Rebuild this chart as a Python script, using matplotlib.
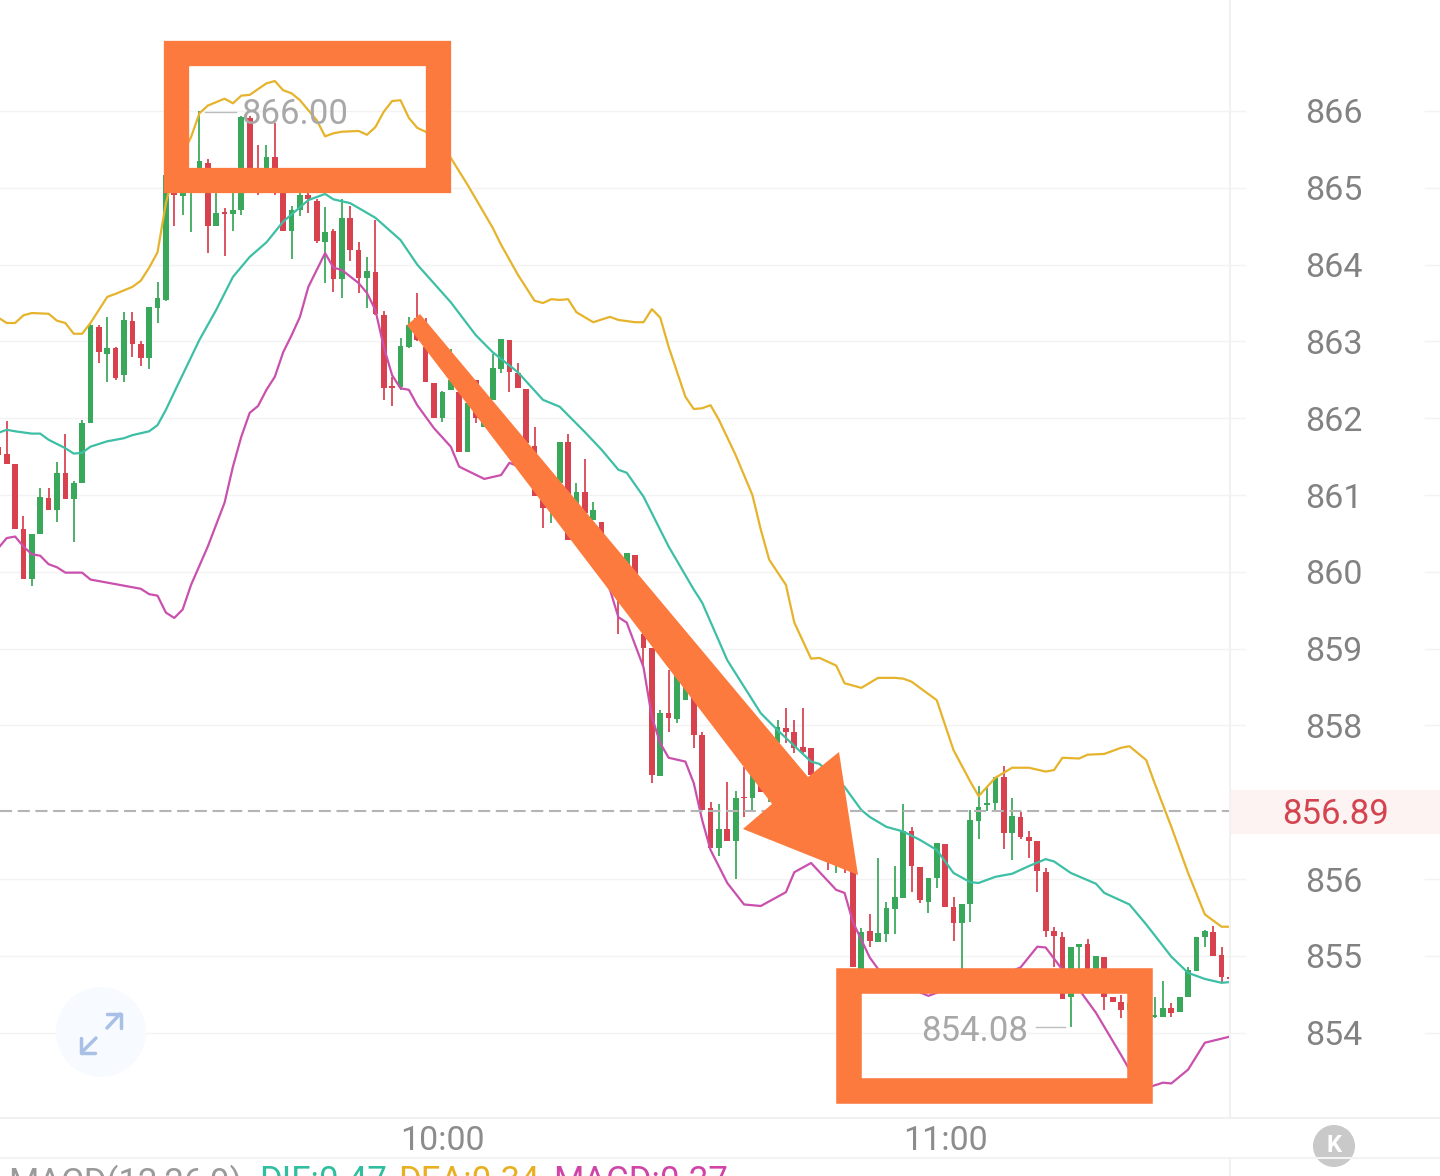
import matplotlib
matplotlib.use("Agg")
import matplotlib.pyplot as plt
from matplotlib.patches import Circle, Polygon, Rectangle

plt.rcParams["font.family"] = ["Roboto", "DejaVu Sans"]

# one candle per minute, index 53 is 10:00 and index 113 is 11:00
opens = [
    861.63, 861.54, 861.41, 860.56, 859.91, 860.49, 860.96, 860.81, 861.29, 860.95,
    861.16, 861.94, 863.19, 862.84, 862.92, 862.56, 863.27, 862.97, 862.79, 863.44,
    863.54, 865.23, 864.89, 864.93, 864.97, 865.32, 864.50, 864.69, 864.66, 864.71,
    865.91, 865.23, 865.04, 865.40, 865.17, 864.44, 864.71, 864.91, 864.83, 864.29,
    864.44, 863.81, 864.61, 864.19, 863.83, 863.90, 863.34, 862.42, 862.41, 862.93,
    863.31, 862.93, 862.46, 862.00, 862.37, 862.34, 861.56, 862.50, 861.89, 862.24,
    862.64, 863.02, 862.59, 862.38, 861.64, 860.94, 860.81, 861.16, 861.69, 860.81,
    861.04, 860.68, 860.65, 860.35, 859.96, 859.96, 860.22, 859.19, 859.01, 857.34,
    858.16, 858.09, 858.33, 858.37, 857.88, 856.92, 856.41, 856.65, 856.49, 857.07,
    857.06, 857.36, 857.16, 857.77, 857.97, 857.92, 857.72, 857.71, 857.29, 856.38,
    856.19, 856.25, 856.12, 854.79, 855.33, 855.18, 855.29, 855.61, 855.76, 856.62,
    856.16, 855.70, 856.02, 856.46, 855.64, 855.43, 855.67, 856.76, 856.97, 856.99,
    857.33, 856.60, 856.81, 856.55, 856.49, 856.09, 855.33, 855.25, 854.46, 855.11,
    855.16, 854.75, 854.99, 854.46, 854.40, 854.29, 854.43, 854.30, 854.21, 854.21,
    854.32, 854.27, 854.46, 854.81, 855.24, 855.31, 855.01, 854.73,
]
highs = [
    861.70, 861.97, 861.41, 860.73, 860.49, 861.09, 861.09, 861.43, 861.80, 861.18,
    861.98, 863.24, 863.21, 863.32, 862.93, 863.38, 863.38, 863.00, 863.45, 863.77,
    865.26, 865.25, 865.20, 865.25, 866.00, 865.38, 865.23, 864.74, 865.10, 865.93,
    865.93, 865.56, 865.56, 865.84, 865.20, 864.76, 864.95, 864.97, 864.85, 864.75,
    864.46, 864.85, 864.76, 864.29, 864.10, 864.58, 863.40, 862.54, 863.05, 863.32,
    863.63, 863.31, 862.46, 862.35, 862.90, 862.36, 862.20, 862.50, 862.30, 862.84,
    863.03, 863.02, 862.72, 862.38, 861.89, 860.96, 861.07, 861.69, 861.80, 861.16,
    861.47, 860.91, 860.65, 860.35, 859.96, 860.25, 860.22, 859.25, 859.01, 858.20,
    858.72, 858.66, 858.59, 858.37, 857.92, 857.01, 856.98, 857.27, 857.15, 857.46,
    857.38, 857.36, 857.36, 858.07, 858.23, 858.07, 858.23, 857.71, 857.29, 856.38,
    856.38, 856.25, 856.12, 855.37, 855.55, 856.28, 855.70, 856.17, 856.98, 856.68,
    856.16, 856.02, 856.47, 856.46, 855.77, 855.67, 856.90, 857.21, 857.20, 857.33,
    857.47, 857.06, 856.88, 856.62, 856.49, 856.15, 855.38, 855.31, 855.11, 855.16,
    855.22, 855.00, 854.99, 854.46, 854.49, 854.39, 854.43, 854.43, 854.47, 854.68,
    854.39, 854.46, 854.85, 855.24, 855.34, 855.39, 855.11, 854.79,
]
lows = [
    861.48, 861.41, 860.56, 859.91, 859.82, 860.49, 860.81, 860.65, 860.95, 860.39,
    861.16, 861.94, 862.72, 862.47, 862.50, 862.47, 862.80, 862.68, 862.64, 863.24,
    863.52, 864.50, 864.65, 864.43, 864.95, 864.15, 864.50, 864.11, 864.44, 864.65,
    864.95, 864.90, 865.00, 864.90, 864.44, 864.07, 864.63, 864.67, 864.28, 863.76,
    863.64, 863.57, 864.05, 863.63, 863.44, 863.34, 862.24, 862.16, 862.37, 862.92,
    863.00, 862.47, 862.00, 861.95, 862.37, 861.56, 861.56, 861.94, 861.89, 862.24,
    862.59, 862.34, 862.39, 861.68, 860.99, 860.57, 860.64, 861.16, 860.42, 860.81,
    860.77, 860.68, 860.42, 860.09, 859.19, 859.96, 859.64, 858.76, 857.25, 857.34,
    857.92, 858.03, 858.33, 857.71, 856.90, 856.41, 856.30, 856.50, 856.00, 856.81,
    856.88, 857.14, 857.01, 857.71, 857.77, 857.64, 857.64, 857.36, 856.64, 856.12,
    856.08, 856.08, 854.86, 854.79, 855.12, 855.18, 855.18, 855.29, 855.76, 855.83,
    855.69, 855.56, 855.89, 855.64, 855.20, 854.82, 855.44, 856.52, 856.89, 856.89,
    856.39, 856.25, 856.52, 856.28, 855.83, 855.24, 854.86, 854.44, 854.08, 854.75,
    854.75, 854.75, 854.30, 854.40, 854.19, 854.29, 854.30, 854.30, 854.19, 854.21,
    854.21, 854.27, 854.46, 854.81, 855.11, 855.00, 854.66, 854.49,
]
closes = [
    861.52, 861.41, 860.56, 859.91, 860.49, 860.98, 860.81, 861.29, 860.95, 861.16,
    861.94, 863.21, 862.86, 862.92, 862.52, 863.28, 862.97, 862.79, 863.45, 863.57,
    865.17, 864.91, 865.17, 865.23, 865.35, 864.50, 864.67, 864.66, 864.71, 865.92,
    864.95, 864.97, 865.40, 864.97, 864.44, 864.71, 864.91, 864.85, 864.31, 864.43,
    863.81, 864.61, 864.19, 863.83, 863.92, 863.36, 862.39, 862.39, 862.94, 863.21,
    863.02, 862.47, 862.00, 862.34, 862.50, 861.56, 862.20, 862.00, 862.30, 862.65,
    863.03, 862.60, 862.39, 861.68, 860.99, 860.83, 861.07, 861.69, 860.42, 861.04,
    860.77, 860.81, 860.42, 860.09, 859.64, 860.25, 859.64, 859.01, 857.36, 858.16,
    858.10, 858.66, 858.59, 857.88, 856.90, 856.41, 856.65, 856.50, 857.06, 857.05,
    857.38, 857.14, 857.36, 857.98, 857.92, 857.71, 857.66, 857.36, 856.64, 856.25,
    856.38, 856.17, 854.86, 855.31, 855.20, 855.30, 855.63, 855.77, 856.62, 856.17,
    855.73, 856.02, 856.47, 855.64, 855.43, 855.67, 856.77, 856.94, 856.99, 857.33,
    856.60, 856.82, 856.55, 856.50, 856.11, 855.33, 855.26, 854.44, 855.11, 855.16,
    854.75, 855.00, 854.46, 854.40, 854.29, 854.39, 854.30, 854.43, 854.23, 854.32,
    854.26, 854.46, 854.82, 855.24, 855.33, 855.00, 854.73, 854.70,
]

upper_idx = [
    0, 1, 2, 3, 4, 6, 7, 8, 9, 10, 11, 13, 14, 16, 17, 18, 19, 20, 21, 23, 24, 25, 27, 28, 29, 30,
    32, 33, 34, 35, 36, 38, 39, 40, 41, 43, 44, 45, 46, 47, 48, 49, 50, 51, 54, 56, 59, 60, 62, 64,
    65, 66, 67, 68, 69, 71, 73, 74, 76, 77, 78, 79, 80, 82, 83, 84, 85, 86, 88, 90, 91, 92, 94, 95,
    97, 98, 100, 101, 103, 105, 107, 108, 109, 112, 114, 116, 117, 119, 121, 123, 125, 126, 127,
    129, 130, 132, 134, 135, 137, 138, 140, 142, 144, 146, 147,
]
upper = [
    863.31, 863.24, 863.24, 863.34, 863.37, 863.36, 863.27, 863.24, 863.10, 863.10, 863.24,
    863.58, 863.62, 863.71, 863.79, 863.96, 864.16, 864.80, 865.23, 865.66, 865.97, 866.07,
    866.16, 866.10, 866.20, 866.21, 866.36, 866.39, 866.27, 866.23, 866.14, 865.88, 865.67,
    865.71, 865.73, 865.74, 865.69, 865.79, 865.99, 866.13, 866.14, 865.91, 865.78, 865.73,
    865.39, 865.04, 864.48, 864.26, 863.87, 863.53, 863.50, 863.55, 863.54, 863.55, 863.38,
    863.25, 863.32, 863.28, 863.25, 863.25, 863.42, 863.31, 862.93, 862.28, 862.12, 862.13,
    862.17, 861.98, 861.52, 861.00, 860.55, 860.16, 859.83, 859.34, 858.87, 858.88, 858.78,
    858.55, 858.49, 858.62, 858.62, 858.61, 858.57, 858.33, 857.68, 857.27, 857.08, 857.32,
    857.45, 857.45, 857.40, 857.42, 857.58, 857.57, 857.62, 857.63, 857.71, 857.73, 857.55,
    857.25, 856.68, 856.08, 855.54, 855.38, 855.38,
]
middle_idx = [
    0, 1, 2, 4, 5, 6, 8, 9, 10, 11, 13, 15, 16, 18, 19, 20, 21, 24, 26, 28, 30, 32, 34, 37, 39, 40,
    42, 45, 48, 50, 54, 57, 59, 62, 65, 67, 70, 72, 74, 75, 77, 80, 83, 84, 87, 91, 93, 97, 98, 101,
    103, 104, 106, 108, 110, 112, 114, 116, 117, 119, 121, 123, 125, 126, 128, 131, 132, 135, 137,
    140, 142, 144, 146, 147,
]
middle = [
    861.81, 861.85, 861.83, 861.80, 861.80, 861.72, 861.61, 861.54, 861.55, 861.63, 861.70,
    861.74, 861.78, 861.83, 861.91, 862.11, 862.34, 863.02, 863.41, 863.84, 864.10, 864.29,
    864.56, 864.84, 864.92, 864.85, 864.80, 864.61, 864.32, 864.00, 863.51, 863.08, 862.86,
    862.60, 862.24, 862.15, 861.82, 861.59, 861.33, 861.29, 860.98, 860.33, 859.77, 859.60,
    858.85, 858.16, 857.94, 857.53, 857.50, 857.20, 856.90, 856.81, 856.68, 856.62, 856.51,
    856.38, 856.08, 855.96, 855.95, 856.03, 856.07, 856.17, 856.26, 856.23, 856.08, 855.94,
    855.82, 855.67, 855.41, 854.99, 854.78, 854.70, 854.65, 854.66,
]
lower_idx = [
    0, 1, 2, 3, 4, 5, 6, 7, 8, 10, 11, 13, 14, 17, 18, 19, 20, 21, 22, 23, 25, 27, 28, 29, 30, 31,
    32, 33, 34, 35, 36, 37, 39, 40, 41, 43, 44, 45, 46, 47, 48, 49, 50, 52, 54, 55, 58, 60, 61, 63,
    66, 69, 72, 73, 74, 75, 77, 78, 79, 80, 82, 83, 84, 85, 87, 89, 91, 94, 95, 97, 100, 101, 102,
    104, 105, 108, 111, 113, 116, 119, 122, 124, 125, 127, 129, 131, 134, 135, 137, 139, 140, 142,
    144, 147,
]
lower = [
    860.31, 860.44, 860.46, 860.33, 860.23, 860.21, 860.10, 860.06, 859.99, 859.99, 859.90,
    859.86, 859.84, 859.78, 859.71, 859.69, 859.47, 859.40, 859.51, 859.83, 860.33, 860.90,
    861.37, 861.76, 862.07, 862.16, 862.37, 862.54, 862.86, 863.08, 863.32, 863.71, 864.15,
    863.96, 863.93, 863.76, 863.63, 863.41, 862.93, 862.56, 862.39, 862.37, 862.17, 861.87,
    861.63, 861.37, 861.21, 861.26, 861.42, 861.33, 860.94, 860.55, 859.96, 859.77, 859.41,
    859.34, 858.76, 858.11, 857.77, 857.58, 857.53, 857.25, 856.77, 856.38, 855.95, 855.67,
    855.65, 855.83, 856.09, 856.21, 855.86, 855.82, 855.44, 854.98, 854.83, 854.62, 854.48,
    854.56, 854.62, 854.72, 854.85, 855.12, 855.11, 854.82, 854.56, 854.26, 853.71, 853.52,
    853.28, 853.35, 853.34, 853.52, 853.87, 853.95,
]

# the 857 row has no label or grid line, the last price tag sits next to it
price_ticks = [854, 855, 856, 858, 859, 860, 861, 862, 863, 864, 865, 866]
time_ticks = [53, 113]
time_labels = ["10:00", "11:00"]
last_price = 856.89
high_price = 866.00
low_price = 854.08
macd_parts = [("MACD(12,26,9)", "#9a9a9a", 8), ("DIF:0.47", "#2fbf9f", 259),
              ("DEA:0.34", "#e8b020", 398), ("MACD:0.27", "#d044a8", 553)]

GREEN = "#3aa85b"
RED = "#d8424f"
ORANGE = "#fd7a3f"
W, H = 1440, 1176

fig = plt.figure(figsize=(W / 100, H / 100), dpi=100, facecolor="white")

# price panel, stops at the vertical divider
ax = fig.add_axes([0, 1 - 1118 / H, 1230 / W, 1118 / H])
ax.set_xlim(0.2, 147.0)
ax.set_ylim(852.89, 867.445)
for side in ax.spines:
    ax.spines[side].set_visible(False)

for p in price_ticks:
    ax.axhline(p, color="#f3f3f3", lw=1, zorder=1)

for i in range(len(opens)):
    color = GREEN if closes[i] >= opens[i] else RED
    ax.vlines(i, lows[i], highs[i], color=color, lw=1.4, alpha=0.9, zorder=2)
    ax.bar(i, abs(closes[i] - opens[i]), bottom=min(opens[i], closes[i]), width=0.68, color=color, zorder=3)

for idx, vals, color in [(upper_idx, upper, "#e6b32c"), (middle_idx, middle, "#3dbfa6"), (lower_idx, lower, "#c950ad")]:
    ax.plot(idx, vals, color=color, lw=1.6, solid_joinstyle="round", zorder=4)
ax.axhline(last_price, color="#b4b4b4", lw=1.5, dashes=(5.8, 2.7), zorder=4)

ax.set_yticks(price_ticks)
ax.yaxis.tick_right()
ax.tick_params(axis="y", length=0, labelsize=24.5, labelcolor="#828282", pad=75)
for label in ax.get_yticklabels():
    label.set_ha("center")
ax.set_xticks(time_ticks)
ax.set_xticklabels(time_labels)
ax.tick_params(axis="x", length=0, labelsize=24.5, labelcolor="#8c8c8c", pad=5)

# overlay in picture pixels for the screenshot furniture and the hand drawn marks
over = fig.add_axes([0, 0, 1, 1], facecolor="none")
over.set_xlim(0, W)
over.set_ylim(H, 0)
over.axis("off")

for p in price_ticks:
    y = H - ax.transData.transform((0, p))[1]
    over.plot([1230, 1245], [y, y], color="#f3f3f3", lw=1)
    over.plot([1425, 1440], [y, y], color="#f3f3f3", lw=1)

over.plot([0, W], [1118, 1118], color="#f1f1f1", lw=1.5)
over.plot([0, W], [1158, 1158], color="#f3f3f3", lw=1.5)
over.plot([1230, 1230], [0, 1118], color="#f1f1f1", lw=1.5)
over.plot([1230, 1230], [1158, H], color="#f1f1f1", lw=1.5)

over.add_patch(Rectangle((1231, 790), 209, 44, color="#fdf3f2", lw=0))
over.text(1335, 811, "%.2f" % last_price, color="#d4444f", fontsize=25, ha="center", va="center_baseline")

# high and low tags
over.plot([205, 236], [112, 112], color="#bdbdbd", lw=1)
over.text(295, 111, "%.2f" % high_price, color="#a8a8a8", fontsize=25, ha="center", va="center_baseline", zorder=6)
over.plot([1036, 1065], [1027, 1027], color="#bdbdbd", lw=1)
over.text(975, 1028, "%.2f" % low_price, color="#a8a8a8", fontsize=25, ha="center", va="center_baseline", zorder=6)

# orange boxes and arrow
over.add_patch(Rectangle((176, 53), 262, 127, fill=False, ec=ORANGE, lw=18.2, joinstyle="miter", zorder=5))
over.add_patch(Rectangle((849, 981), 291, 110, fill=False, ec=ORANGE, lw=18.4, joinstyle="miter", zorder=5))
over.add_patch(Polygon([(407, 325), (420, 314), (808, 777), (839, 752), (858, 875), (743, 829), (772, 804)],
                       color=ORANGE, lw=0, zorder=5))

# expand button
over.add_patch(Circle((101, 1032), 45, color="#f7fafe", lw=0, zorder=2))
for xs, ys in [([107, 120], [1028, 1014]), ([107, 121, 121], [1014, 1014, 1028]),
               ([96, 82], [1038, 1052]), ([81, 81, 95], [1038, 1053, 1053])]:
    over.plot(xs, ys, color="#a9c0e6", lw=2.5, solid_capstyle="round", zorder=3)

# k button
over.add_patch(Circle((1334, 1146), 21, color="#c9c9c9", lw=0))
over.text(1334, 1145, "K", color="white", fontsize=17, fontweight="bold", ha="center", va="center")

for text, color, x in macd_parts:
    over.text(x, 1165, text, color=color, fontsize=25, ha="left", va="top")

fig.savefig("out.png", dpi=100)
